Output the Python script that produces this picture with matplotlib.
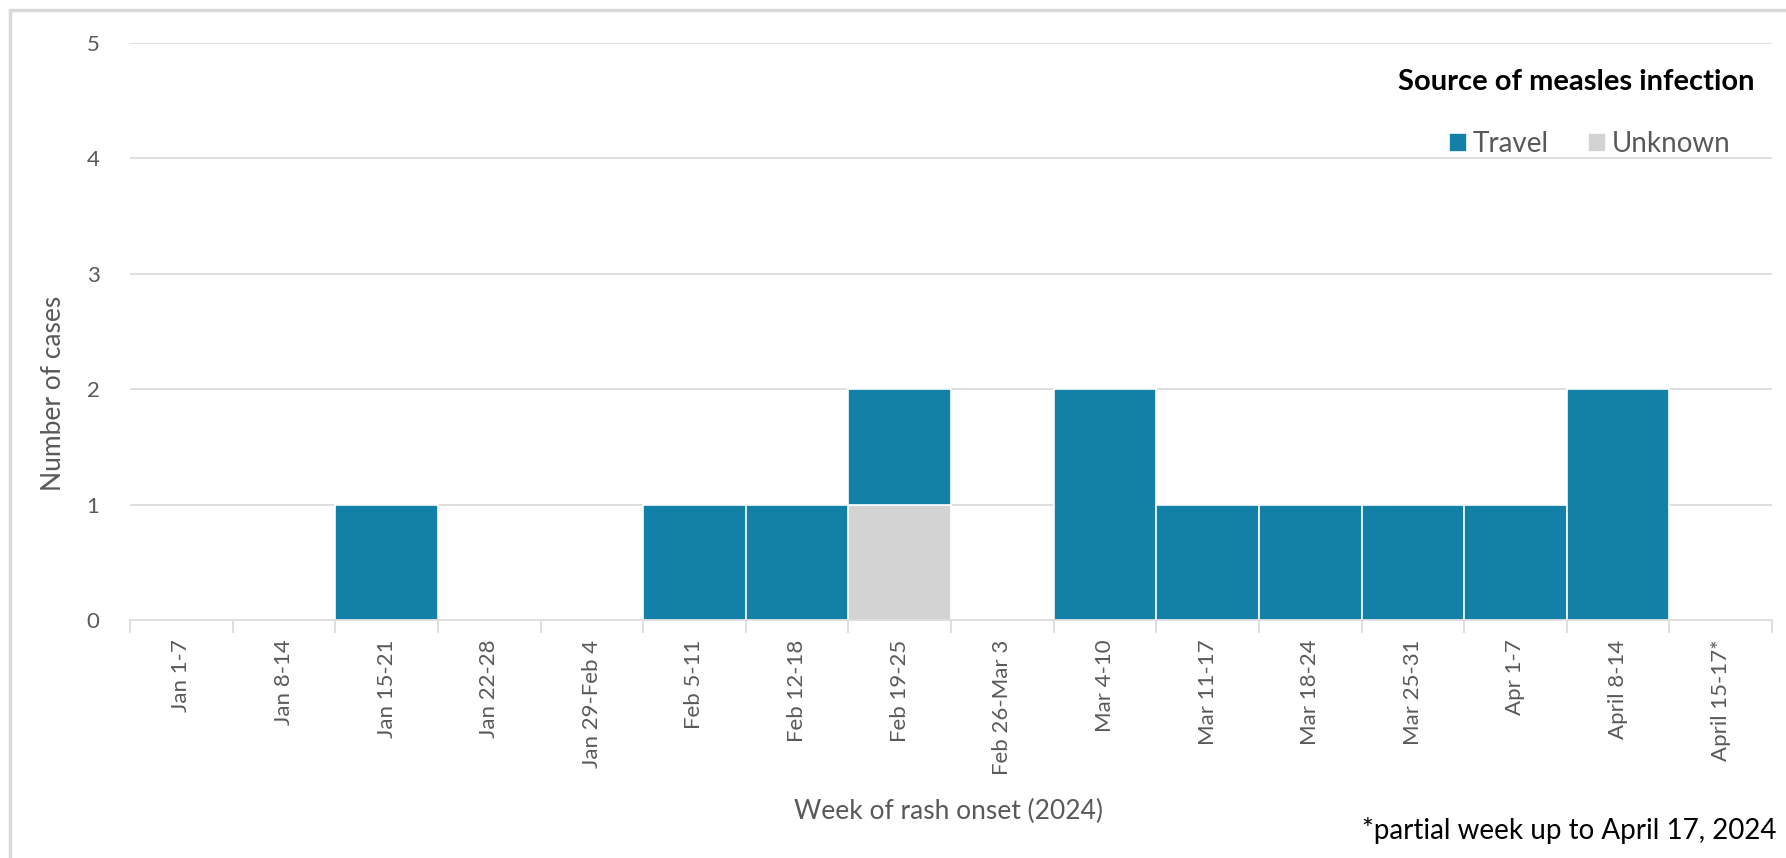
import matplotlib
matplotlib.use("Agg")
import matplotlib.pyplot as plt
from matplotlib.patches import Rectangle
import numpy as np

weeks = ["Jan 1-7", "Jan 8-14", "Jan 15-21", "Jan 22-28", "Jan 29-Feb 4",
         "Feb 5-11", "Feb 12-18", "Feb 19-25", "Feb 26-Mar 3", "Mar 4-10",
         "Mar 11-17", "Mar 18-24", "Mar 25-31", "Apr 1-7", "April 8-14",
         "April 15-17*"]
travel = [0, 0, 1, 0, 0, 1, 1, 1, 0, 2, 1, 1, 1, 1, 2, 0]
unknown = [0, 0, 0, 0, 0, 0, 0, 1, 0, 0, 0, 0, 0, 0, 0, 0]
yticks = [0, 1, 2, 3, 4, 5]

TRAVEL_C = "#1380a8"
UNK_C = "#d3d3d3"
GRAY = "#595959"

plt.rcParams['font.family'] = ['Lato', 'DejaVu Sans']

W, H = 1786, 858
fig = plt.figure(figsize=(W / 100, H / 100), dpi=100)
fig.patches.append(Rectangle((10 / W, -0.1), 1.2, 1.1 - 10 / H,
                             transform=fig.transFigure, fill=False,
                             edgecolor="#d9d9d9", linewidth=2.5))

ax = fig.add_axes([130 / W, (H - 620) / H, (1772 - 130) / W, (620 - 43) / H])
x = np.arange(len(weeks))
b_unk = ax.bar(x, unknown, width=1.0, color=UNK_C, edgecolor="white", linewidth=1.2, label="Unknown")
b_tr = ax.bar(x, travel, width=1.0, bottom=unknown, color=TRAVEL_C, edgecolor="white", linewidth=1.2, label="Travel")

ax.set_xlim(-0.5, len(weeks) - 0.5)
ax.set_ylim(0, 5)
ax.set_yticks(yticks)
ax.yaxis.grid(True, color="#d9d9d9", linewidth=1.2)
ax.set_axisbelow(True)
for s in ["top", "right", "left"]:
    ax.spines[s].set_visible(False)
ax.spines["bottom"].set_color("#d9d9d9")
ax.spines["bottom"].set_linewidth(1.2)

ax.set_xticks(x)
ax.set_xticklabels(weeks, rotation=90, fontsize=16, color=GRAY)
ax.set_xticks(np.arange(-0.5, len(weeks)), minor=True)
ax.tick_params(axis="x", which="major", length=0, pad=14)
ax.tick_params(axis="x", which="minor", length=9, color="#d9d9d9", width=1.2)
ax.tick_params(axis="y", length=0, labelsize=16, labelcolor=GRAY, pad=22)

fig.text(54 / W, 1 - 393 / H, "Number of cases", rotation=90, ha="center", va="center",
         fontsize=19, color=GRAY)
fig.text(948 / W, 1 - 811 / H, "Week of rash onset (2024)", ha="center", va="center",
         fontsize=19, color=GRAY)
fig.text(1362 / W, 1 - 830 / H, "*partial week up to April 17, 2024", ha="left", va="center",
         fontsize=20, color="black")

fig.text(1755 / W, 1 - 82 / H, "Source of measles infection", ha="right", va="center",
         fontsize=21, fontweight="bold", color="black")

leg = ax.legend(handles=[b_tr, b_unk], labels=["Travel", "Unknown"], ncol=2,
                frameon=False, loc="center right",
                bbox_to_anchor=(1730 / W, 1 - 144 / H),
                bbox_transform=fig.transFigure, fontsize=20,
                handlelength=0.65, handleheight=0.65, handletextpad=0.2,
                columnspacing=1.4, borderaxespad=0, borderpad=0)
for t in leg.get_texts():
    t.set_color(GRAY)

fig.savefig("out.png", dpi=100)
